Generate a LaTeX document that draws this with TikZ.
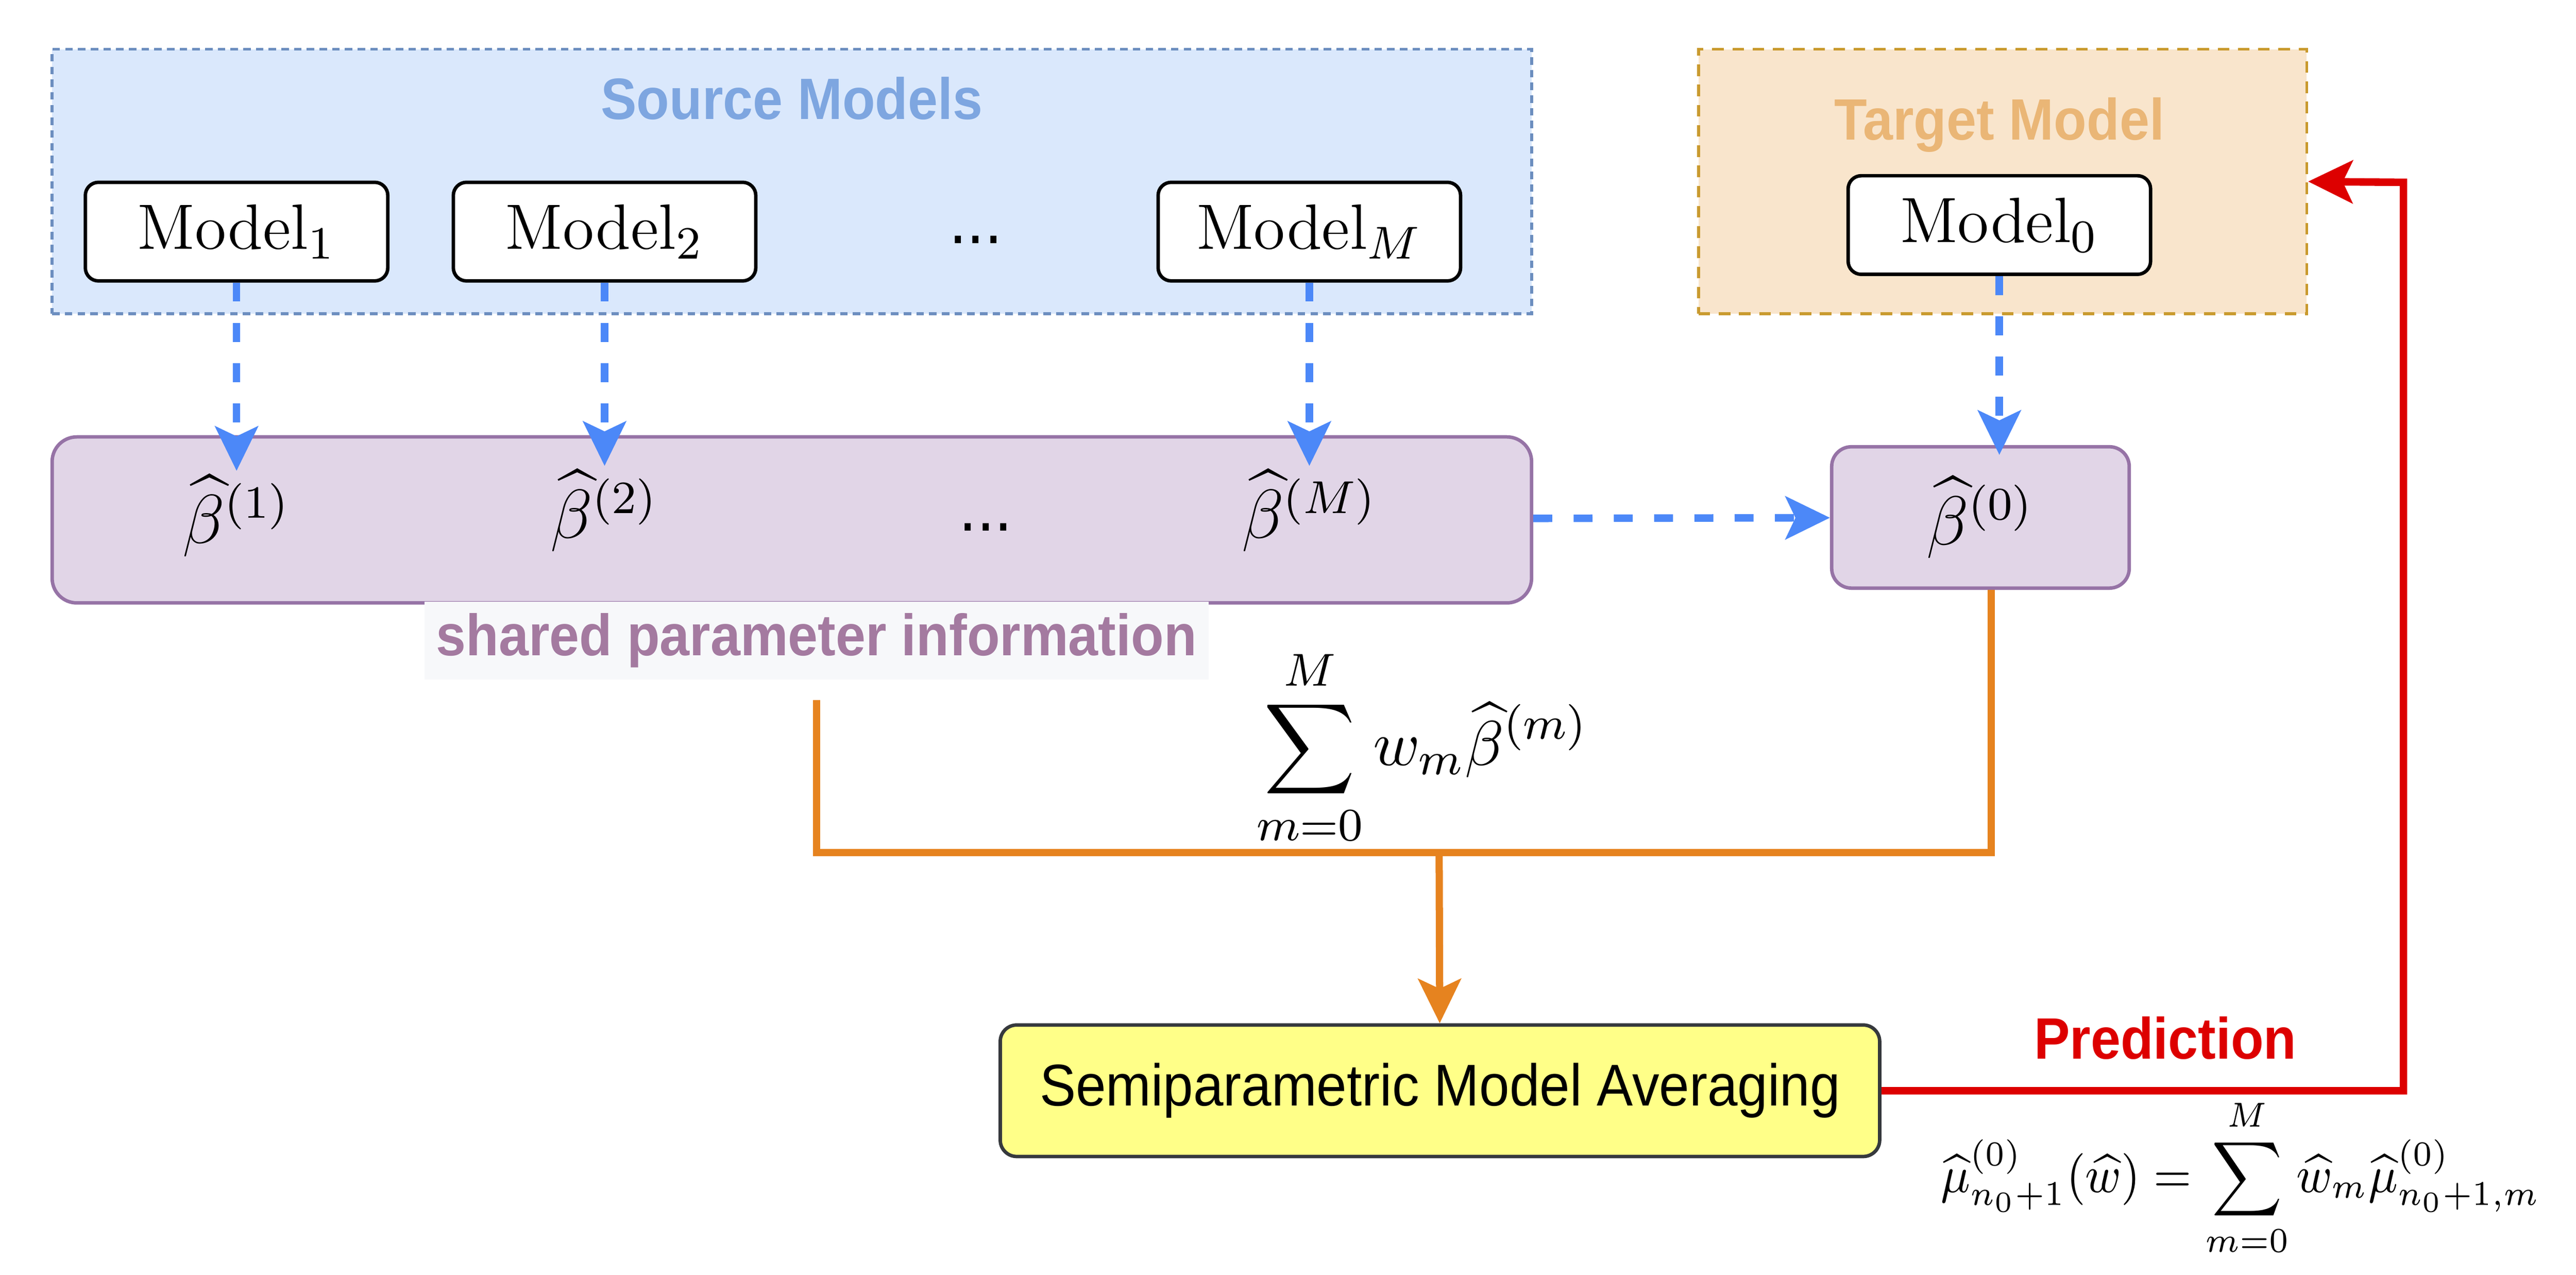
\documentclass[tikz,border=0pt]{standalone}
\usepackage{amsmath}
\usepackage{fontspec}
\setsansfont{Liberation Sans}[FakeStretch=0.92]
\usepackage{tikz}
\usetikzlibrary{arrows.meta,positioning}

\definecolor{srcfill}{HTML}{DAE8FC}
\definecolor{srcline}{HTML}{6C8EBF}
\definecolor{srctext}{HTML}{7EA6E0}
\definecolor{tgtfill}{HTML}{F9E5CC}
\definecolor{tgtline}{HTML}{C99A2E}
\definecolor{tgttext}{HTML}{EAB676}
\definecolor{parfill}{HTML}{E1D5E7}
\definecolor{parline}{HTML}{9673A6}
\definecolor{shtext}{HTML}{A47AA0}
\definecolor{shbg}{HTML}{F7F8FA}
\definecolor{flowblue}{HTML}{4C88F8}
\definecolor{floworange}{HTML}{E6831F}
\definecolor{flowred}{HTML}{DD0000}
\definecolor{smafill}{HTML}{FFFF88}
\definecolor{smaline}{HTML}{36393D}

\begin{document}
\begin{tikzpicture}[x=0.01cm,y=-0.01cm,
   tip/.style={-{Stealth[length=0.27cm,width=0.26cm,inset=0.06cm]}},
   group/.style={rectangle,line width=0.5pt,inner sep=0pt},
   grouptitle/.style={font=\sffamily\bfseries\fontsize{10.1}{12}\selectfont},
   model/.style={rectangle,rounded corners=0.08cm,draw=black,fill=white,line width=0.6pt,
      minimum width=1.84cm,minimum height=0.6cm,font=\fontsize{11.1}{13}\selectfont},
   param/.style={rectangle,rounded corners=0.15cm,draw=parline,fill=parfill,line width=0.6pt},
   est/.style={inner sep=0.5pt,font=\fontsize{12}{14}\selectfont},
   dots/.style={font=\sffamily\fontsize{12}{14}\selectfont},
   share/.style={-,dash pattern=on 0.115cm off 0.13cm,draw=flowblue,line width=1.3pt},
   combine/.style={draw=floworange,line width=1.25pt},
   predict/.style={draw=flowred,line width=1.3pt}]
   \useasboundingbox (0,0) rectangle (1568,776);

   % model groups
   \node [group,draw=srcline,fill=srcfill,dash pattern=on 1.3pt off 0.9pt,
      minimum width=9cm,minimum height=1.61cm] (src) at (482,110.5) {};
   \node [group,draw=tgtline,fill=tgtfill,dash pattern=on 2pt off 1.5pt,
      minimum width=3.7cm,minimum height=1.61cm] (tgt) at (1219,110.5) {};
   \node [grouptitle,text=srctext] (src_t) at (482,60) {Source Models};
   \node [grouptitle,text=tgttext] (tgt_t) at (1217,76) {Target Model};

   \node [model] (m_1) at (144,141) {Model$_1$};
   \node [model] (m_2) at (368,141) {Model$_2$};
   \node [dots] (d_1) at (594,146) {...};
   \node [model] (m_M) at (797,141) {Model$_M$};
   \node [model] (m_0) at (1217,137) {Model$_0$};

   % estimates
   \node [param,minimum width=9cm,minimum height=1.01cm] (par) at (482,316.5) {};
   \node [est] (b_1) at (144,314) {$\widehat{\beta}^{(1)}$};
   \node [est] (b_2) at (368,311) {$\widehat{\beta}^{(2)}$};
   \node [dots] (d_2) at (600,321) {...};
   \node [est] (b_M) at (797,311) {$\widehat{\beta}^{(M)}$};
   \node [param,rounded corners=0.12cm,minimum width=1.81cm,minimum height=0.86cm,
      font=\fontsize{12}{14}\selectfont] (b_0) at (1205.5,315) {$\widehat{\beta}^{(0)}$};
   \node [fill=shbg,inner sep=2pt,text=shtext,font=\sffamily\bfseries\fontsize{10.1}{12}\selectfont]
      (shr) at (497,390) {shared parameter information};

   \node [rectangle,rounded corners=0.1cm,draw=smaline,fill=smafill,line width=0.6pt,
      minimum width=5.35cm,minimum height=0.8cm,font=\sffamily\fontsize{10.2}{12}\selectfont]
      (sma) at (876.5,664) {Semiparametric Model Averaging};

   \coordinate (sum) at (876,519);
   \coordinate (rc) at (1463,111);

   % connectors
   \foreach \i in {1,2,M}
      \draw [share,tip] (m_\i) -- (b_\i);
   \draw [share,tip] (m_0.south) -- ([yshift=-0.06cm]m_0.south |- b_0.north);
   \draw [share,tip] (par) -- (b_0);

   \draw [combine] ([yshift=-0.12cm]shr.south) |- (sum) -| ([xshift=0.065cm]b_0.south);
   \draw [combine,tip] (sum) -- (sma);
   \node [inner sep=0pt,font=\fontsize{11}{13}\selectfont] (sum_t) at (866,455)
      {$\displaystyle\sum_{m=0}^{M} w_m\widehat{\beta}^{(m)}$};

   \draw [predict,tip] (sma.east) -| (rc) -- (tgt.east);
   \node [text=flowred,font=\sffamily\bfseries\fontsize{10.1}{12}\selectfont] (pred) at (1318,632) {Prediction};
   \node [inner sep=0pt,transform shape,xscale=0.91,font=\fontsize{8.7}{10}\selectfont] (pred_f) at (1364,717)
      {$\displaystyle\widehat{\mu}^{(0)}_{n_0+1}(\widehat{w})=\sum_{m=0}^{M}\widehat{w}_m\widehat{\mu}^{(0)}_{n_0+1,m}$};
\end{tikzpicture}
\end{document}
